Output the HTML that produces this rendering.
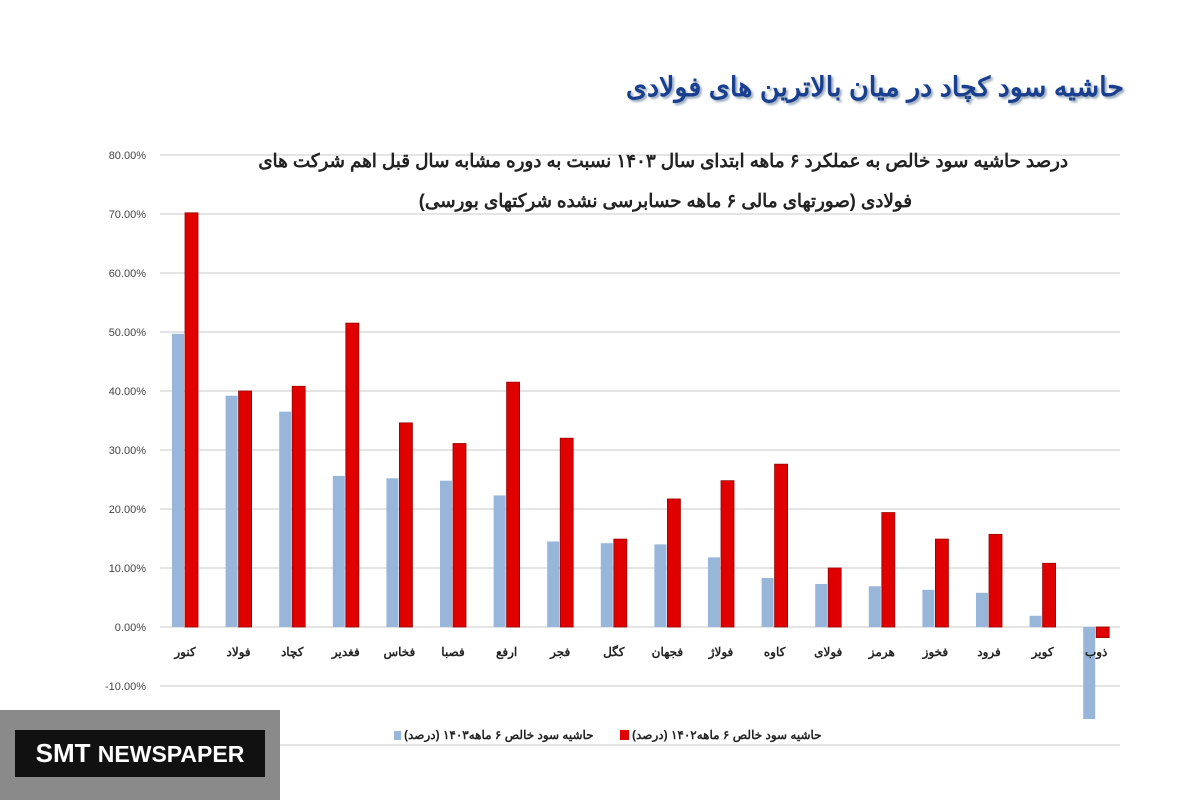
<!DOCTYPE html>
<html><head><meta charset="utf-8"><style>
body{margin:0;width:1200px;height:800px;background:#fff;overflow:hidden;font-family:"Liberation Sans","Noto Sans CJK SC",sans-serif;position:relative}
.t{position:absolute;direction:rtl;white-space:nowrap}
</style></head><body>
<div class="t" style="right:76px;top:72px;font-size:27px;font-weight:bold;color:#1a3f8f;text-shadow:2px 2px 2px #9ab">حاشیه سود کچاد در میان بالاترین های فولادی</div>
<svg id="c" width="1200" height="800" style="position:absolute;left:0;top:0"></svg>
<div class="t" style="right:132px;top:150px;font-size:18.3px;font-weight:bold;color:#222">درصد حاشیه سود خالص به عملکرد ۶ ماهه ابتدای سال ۱۴۰۳ نسبت به دوره مشابه سال قبل اهم شرکت های</div>
<div class="t" style="right:288px;top:190px;font-size:18.3px;font-weight:bold;color:#222">فولادی (صورتهای مالی ۶ ماهه حسابرسی نشده شرکتهای بورسی)</div>
<div style="position:absolute;left:390px;top:727px;width:470px;height:20px;font-size:12px;font-weight:bold;color:#222">
<div style="position:absolute;left:4px;top:4px;width:7px;height:9px;background:#97b6d9"></div>
<div class="t" style="left:14px;top:1px">حاشیه سود خالص ۶ ماهه۱۴۰۳ (درصد)</div>
<div style="position:absolute;left:230px;top:3px;width:9px;height:10px;background:#e00000"></div>
<div class="t" style="left:242px;top:1px">حاشیه سود خالص ۶ ماهه۱۴۰۲ (درصد)</div>
</div>
<div style="position:absolute;left:0;top:710px;width:280px;height:90px;background:#8a8a8a">
<div style="position:absolute;left:15px;top:20px;width:250px;height:47px;background:#111;color:#fff;font-size:26px;font-weight:bold;line-height:47px;text-align:center">SMT <span style="font-size:23px">NEWSPAPER</span></div></div>
<script>
const categories=["کنور","فولاد","کچاد","فغدیر","فخاس","فصبا","ارفع","فجر","کگل","فجهان","فولاژ","کاوه","فولای","هرمز","فخوز","فرود","کویر","ذوب"];
const series1403=[49.7,39.2,36.5,25.6,25.2,24.8,22.3,14.5,14.2,14.0,11.8,8.3,7.3,6.9,6.3,5.8,1.9,-15.6];
const series1402=[70.2,40.0,40.8,51.5,34.6,31.1,41.5,32.0,14.9,21.7,24.8,27.6,10.0,19.4,14.9,15.7,10.8,-1.8];
const ticks=[80,70,60,50,40,30,20,10,0,-10,-20];
const tickLabels=["80.00%","70.00%","60.00%","50.00%","40.00%","30.00%","20.00%","10.00%","0.00%","-10.00%",""];
const svg=document.getElementById('c');const NS="http://www.w3.org/2000/svg";
const y=v=>627-v*5.9;
const x=i=>183+i*53.6;
function mk(t,a){const e=document.createElementNS(NS,t);for(const k in a)e.setAttribute(k,a[k]);svg.appendChild(e);return e;}
ticks.forEach((t,i)=>{
 const l=mk('line',{x1:160,x2:1120,y1:y(t),y2:y(t),stroke:'#d4d4d4','stroke-width':1.2});
 
 
 if(tickLabels[i]){const tx=mk('text',{x:146,y:y(t)+4,'text-anchor':'end','font-size':11,fill:'#444'});tx.textContent=tickLabels[i];
 
 }
});
categories.forEach((c,i)=>{
 const v1=series1403[i],v2=series1402[i];
 const b=mk('rect',{x:x(i)-11,y:Math.min(y(v1),y(0)),width:12,height:Math.abs(y(v1)-y(0)),fill:'#97b6d9'});
 
 
 const r=mk('rect',{x:x(i)+2,y:Math.min(y(v2),y(0)),width:13,height:Math.abs(y(v2)-y(0)),fill:'#e00000',stroke:'#900','stroke-width':0.8});
 
 
 const t=mk('text',{x:x(i)+2,y:656,'text-anchor':'middle','font-size':12,'font-weight':'bold',fill:'#222'});t.textContent=c;
 
 
});
</script>
</body></html>
